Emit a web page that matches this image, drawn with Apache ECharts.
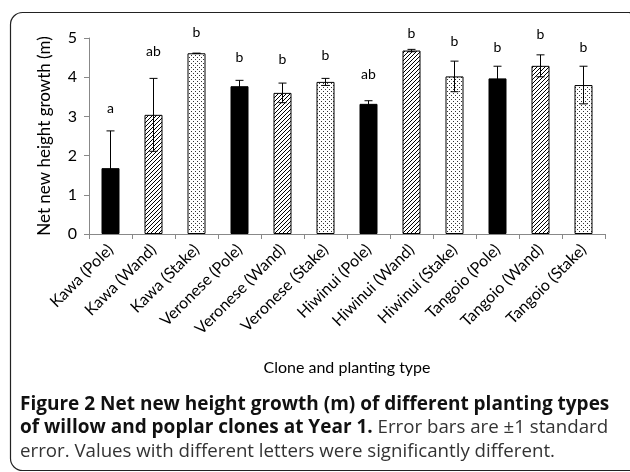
<!DOCTYPE html>
<html><head><meta charset="utf-8">
<script src="https://cdn.jsdelivr.net/npm/echarts@6/dist/echarts.min.js"></script>
<style>html,body{margin:0;padding:0;background:#fff}#c{width:630px;height:472px}</style>
</head><body><div id="c"></div>
<script>
var categories = ['Kawa (Pole)','Kawa (Wand)','Kawa (Stake)','Veronese (Pole)','Veronese (Wand)','Veronese (Stake)','Hiwinui (Pole)','Hiwinui (Wand)','Hiwinui (Stake)','Tangoio (Pole)','Tangoio (Wand)','Tangoio (Stake)'];
var types = ['pole','wand','stake','pole','wand','stake','pole','wand','stake','pole','wand','stake'];
var means = [1.68, 3.04, 4.61, 3.77, 3.60, 3.88, 3.32, 4.68, 4.02, 3.97, 4.29, 3.80];
var errors = [0.95, 0.93, 0.00, 0.15, 0.25, 0.09, 0.08, 0.03, 0.39, 0.31, 0.28, 0.48];
var letters = ['a','ab','b','b','b','b','ab','b','b','b','b','b'];
var letterY = [3.2, 4.66, 5.13, 4.51, 4.45, 4.55, 4.07, 5.12, 4.91, 4.77, 5.09, 4.76];
var yTicks = [0,1,2,3,4,5];

function makeHatch(){
  var c=document.createElement('canvas');c.width=4;c.height=4;
  var g=c.getContext('2d');g.fillStyle='#fff';g.fillRect(0,0,4,4);
  g.strokeStyle='#000';g.lineWidth=1;
  g.beginPath();
  g.moveTo(-1,5);g.lineTo(5,-1);
  g.moveTo(-1,1);g.lineTo(1,-1);
  g.moveTo(3,5);g.lineTo(5,3);
  g.stroke();return c;
}
function makeDots(){
  var c=document.createElement('canvas');c.width=4;c.height=4;
  var g=c.getContext('2d');g.fillStyle='#fff';g.fillRect(0,0,4,4);
  g.fillStyle='#333';g.fillRect(1,1,1,1);g.fillRect(3,3,1,1);
  return c;
}
var hatch=makeHatch(), dots=makeDots();
function fillFor(t){
  if(t==='pole') return '#000';
  if(t==='wand') return {image:hatch,repeat:'repeat'};
  return {image:dots,repeat:'repeat'};
}
var barData = means.map(function(v,i){return {value:v,itemStyle:{color:fillFor(types[i]),borderColor:'#000',borderWidth:1}};});
var errData = means.map(function(v,i){return [i, v-errors[i], v+errors[i]];});
var letterData = letterY.map(function(v,i){return [i, v, letters[i]];});

var chart = echarts.init(document.getElementById('c'), null, {renderer:'canvas'});
chart.setOption({
  animation:false,
  backgroundColor:'#fff',
  grid:{left:89,right:25,top:38,bottom:238},
  xAxis:{type:'category',data:categories,
    axisLine:{lineStyle:{color:'#888',width:1}},
    axisTick:{show:true,length:5,lineStyle:{color:'#888'}},
    axisLabel:{rotate:45,color:'#000',fontFamily:'Lato',fontSize:16,margin:13,interval:0},
    name:'Clone and planting type',nameLocation:'middle',nameGap:126,
    nameTextStyle:{color:'#000',fontFamily:'Lato',fontSize:16}
  },
  yAxis:{type:'value',min:0,max:5,interval:1,
    axisLine:{show:true,lineStyle:{color:'#888'}},
    axisTick:{show:true,length:5,lineStyle:{color:'#888'}},
    splitLine:{show:false},
    axisLabel:{color:'#000',fontFamily:'Lato',fontSize:16,margin:12},
    name:'Net new height growth (m)',nameLocation:'middle',nameGap:36,
    nameTextStyle:{color:'#000',fontFamily:'Lato',fontSize:17}
  },
  series:[
    {type:'bar',data:barData,barWidth:18,z:2},
    {type:'custom',z:5,data:errData,
      renderItem:function(params,api){
        var x=api.coord([api.value(0),0])[0];
        var lo=api.coord([api.value(0),api.value(1)])[1];
        var hi=api.coord([api.value(0),api.value(2)])[1];
        var w=4;
        var st={stroke:'#000',lineWidth:1};
        return {type:'group',children:[
          {type:'line',shape:{x1:x,y1:lo,x2:x,y2:hi},style:st},
          {type:'line',shape:{x1:x-w,y1:hi,x2:x+w,y2:hi},style:st},
          {type:'line',shape:{x1:x-w,y1:lo,x2:x+w,y2:lo},style:st}
        ]};
      }},
    {type:'custom',z:6,data:letterData,
      renderItem:function(params,api){
        var p=api.coord([api.value(0),api.value(1)]);
        return {type:'text',x:p[0],y:p[1],style:{text:letters[params.dataIndex],fill:'#000',font:'14px Lato',align:'center',verticalAlign:'middle'}};
      }}
  ],
  graphic:[
    {type:'rect',shape:{x:10.5,y:12.5,width:630,height:458,r:12},style:{fill:'none',stroke:'#222',lineWidth:1.2},z:0,silent:true},
    {type:'text',left:20,top:395,style:{text:'Figure 2 Net new height growth (m) of different planting types',font:'bold 19px "Open Sans"',fill:'#111'}},
    {type:'text',left:20,top:418,style:{text:'{b|of willow and poplar clones at Year 1.} Error bars are \u00b11 standard',font:'18.7px "Open Sans"',fill:'#333',rich:{b:{font:'bold 19px "Open Sans"',fill:'#111'}}}},
    {type:'text',left:20,top:442,style:{text:'error. Values with different letters were significantly different.',font:'18.7px "Open Sans"',fill:'#333'}}
  ]
});
</script></body></html>
